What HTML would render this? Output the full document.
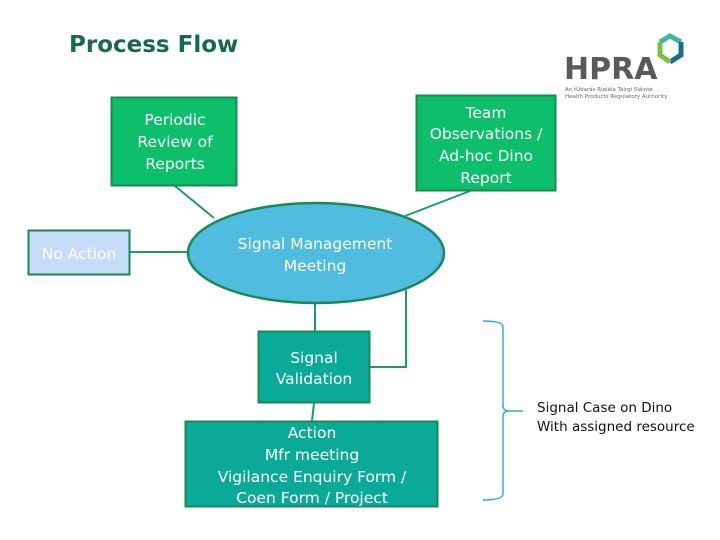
<!DOCTYPE html>
<html><head><meta charset="utf-8"><style>
html,body{margin:0;padding:0;background:#fff;}
svg{display:block;}
text{font-family:"DejaVu Sans","Liberation Sans",sans-serif;}
</style></head><body>
<svg width="720" height="540" viewBox="0 0 720 540" xmlns="http://www.w3.org/2000/svg">
<rect width="720" height="540" fill="#fff"/>
<text x="69" y="52" font-size="23" font-weight="bold" fill="#17694f" font-family="Liberation Sans, sans-serif">Process Flow</text>

<!-- logo -->
<text x="564" y="79" font-size="30" font-weight="bold" fill="#5a5a5c" font-family="Liberation Sans, sans-serif">HPRA</text>
<text x="565" y="91" font-size="5.5" fill="#666">An tÚdarás Rialála Táirgí Sláinte</text>
<text x="565" y="98" font-size="5.5" fill="#666">Health Products Regulatory Authority</text>
<g stroke-width="5" fill="none">
<path d="M660 42 L670 36 L681 42" stroke="#3fb6a8"/>
<path d="M681 42 L681 55 L670 62" stroke="#1a6e8a"/>
<path d="M670 62 L660 55 L660 42" stroke="#7ac143"/>
</g>

<!-- connectors -->
<g stroke="#1f9a6a" stroke-width="2" fill="none">
<line x1="175" y1="186" x2="214" y2="218"/>
<line x1="470" y1="191" x2="405" y2="216"/>
<line x1="130" y1="252" x2="188" y2="252"/>
<line x1="315" y1="303" x2="315" y2="331"/>
<polyline points="370,367 406,367 406,290"/>
<line x1="314" y1="403" x2="312" y2="421"/>
</g>

<!-- boxes -->
<rect x="111.5" y="97.5" width="125" height="88" fill="#0dbf6b" stroke="#1a8a55" stroke-width="2"/>
<g font-size="15.5" fill="#fff" text-anchor="middle">
<text x="175" y="125">Periodic</text>
<text x="175" y="147">Review of</text>
<text x="175" y="169">Reports</text>
</g>
<rect x="416.5" y="95.5" width="139" height="95" fill="#0dbf6b" stroke="#1a8a55" stroke-width="2"/>
<g font-size="15.5" fill="#fff" text-anchor="middle">
<text x="486" y="118">Team</text>
<text x="486" y="139">Observations /</text>
<text x="486" y="161">Ad-hoc Dino</text>
<text x="486" y="183">Report</text>
</g>
<ellipse cx="316" cy="253" rx="128" ry="50" fill="#50bde0" stroke="#1a8a55" stroke-width="2.5"/>
<g font-size="15.5" fill="#fff" text-anchor="middle">
<text x="315" y="249">Signal  Management</text>
<text x="315" y="271">Meeting</text>
</g>
<rect x="28.5" y="230.5" width="101" height="44" fill="#c6dcf8" stroke="#1a8a55" stroke-width="2"/>
<text x="79" y="259" font-size="15.5" fill="#fff" text-anchor="middle">No  Action</text>
<rect x="258.5" y="331.5" width="111" height="71" fill="#0aa998" stroke="#1a8a55" stroke-width="2"/>
<g font-size="15.5" fill="#fff" text-anchor="middle">
<text x="314" y="363">Signal</text>
<text x="314" y="384">Validation</text>
</g>
<rect x="185.5" y="421.5" width="252" height="85" fill="#0aa998" stroke="#1a8a55" stroke-width="2"/>
<g font-size="15.5" fill="#fff" text-anchor="middle">
<text x="312" y="438">Action</text>
<text x="312" y="460">Mfr meeting</text>
<text x="312" y="482">Vigilance Enquiry Form /</text>
<text x="312" y="503">Coen Form  / Project</text>
</g>

<!-- brace -->
<path d="M483 321 Q503 321 503 327 L503 406 Q503 411 510 411 L523 411 M510 411 Q503 411 503 416 L503 494 Q503 500 483 500" stroke="#3ab0b8" stroke-width="1.5" fill="none"/>
<g font-size="13.5" fill="#111">
<text x="537" y="412">Signal Case on Dino</text>
<text x="537" y="431">With assigned resource</text>
</g>
</svg>
</body></html>
